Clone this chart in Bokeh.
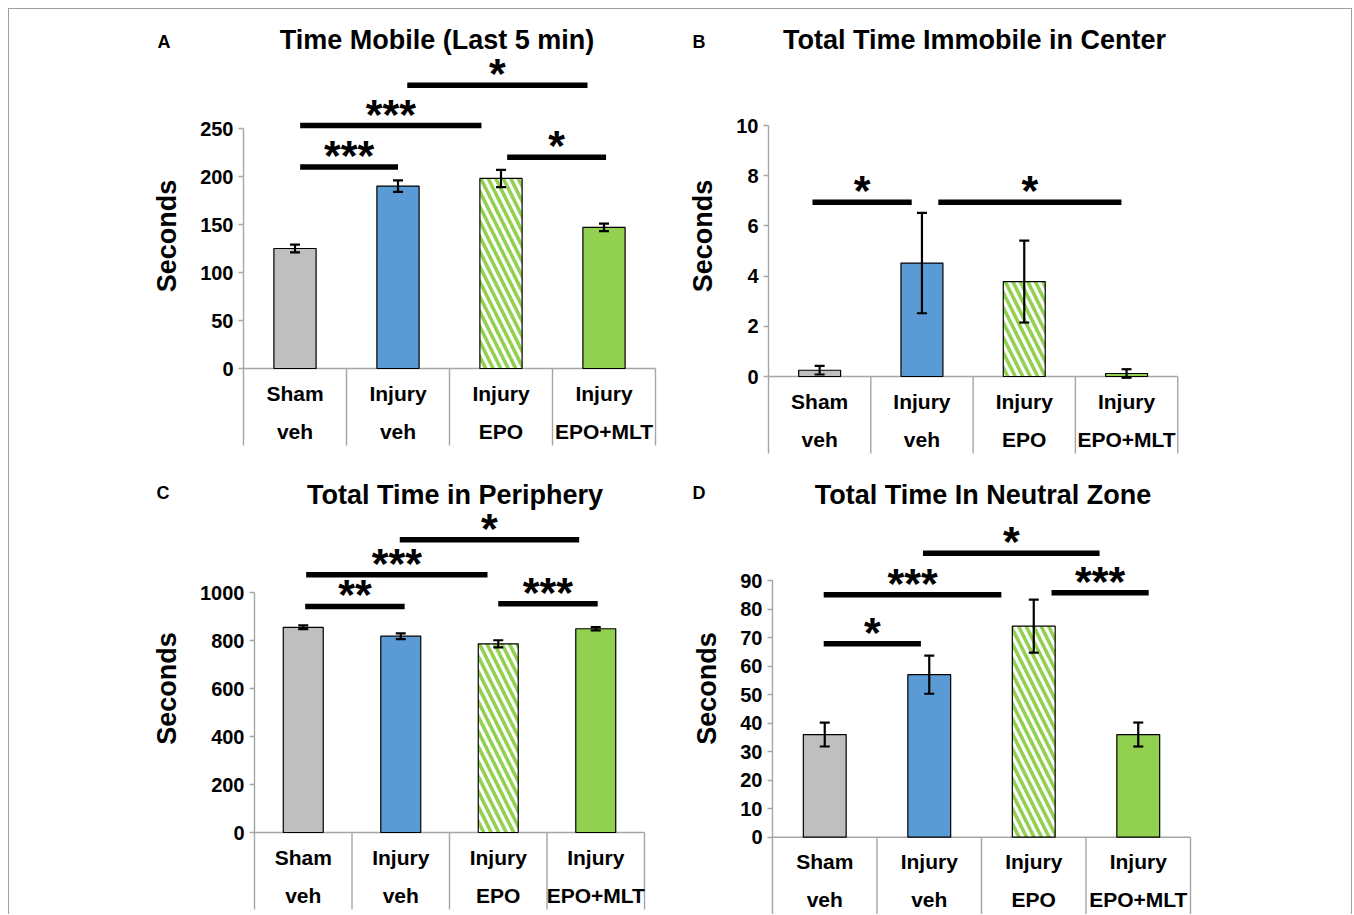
from bokeh.plotting import figure
from bokeh.models import Range1d, FixedTicker, Label, ColumnDataSource, Whisker, TeeHead
from bokeh.layouts import row, column
from bokeh.embed import file_html
from bokeh.resources import INLINE
from bokeh.core.properties import value

# ---------------- data ----------------
group_top = ["Sham", "Injury", "Injury", "Injury"]
group_bottom = ["veh", "veh", "EPO", "EPO+MLT"]

mobile_mean = [125, 190, 198, 147]
mobile_err = [4, 6, 9, 4]
mobile_ticks = [0, 50, 100, 150, 200, 250]
# comparisons: start group, end group, bar height (seconds), significance
mobile_sig_from = [0.05, 0.05, 1.09, 2.06]
mobile_sig_to = [1.00, 1.81, 2.84, 3.02]
mobile_sig_level = [210, 253, 295, 220]
mobile_sig_text = ["***", "***", "*", "*"]

center_mean = [0.25, 4.52, 3.78, 0.12]
center_err = [0.17, 2.0, 1.63, 0.17]
center_ticks = [0, 2, 4, 6, 8, 10]
center_sig_from = [-0.07, 1.16]
center_sig_to = [0.90, 2.95]
center_sig_level = [6.94, 6.94]
center_sig_text = ["*", "*"]

periph_mean = [855, 818, 786, 849]
periph_err = [8, 12, 15, 7]
periph_ticks = [0, 200, 400, 600, 800, 1000]
periph_sig_from = [0.02, 0.03, 0.99, 2.00]
periph_sig_to = [1.04, 1.89, 2.83, 3.02]
periph_sig_level = [942, 1074, 1220, 953]
periph_sig_text = ["**", "***", "*", "***"]

neutral_mean = [36, 57, 74, 36]
neutral_err = [4.2, 6.7, 9.3, 4.2]
neutral_ticks = [0, 10, 20, 30, 40, 50, 60, 70, 80, 90]
neutral_sig_from = [-0.01, -0.01, 0.94, 2.17]
neutral_sig_to = [0.92, 1.69, 2.63, 3.10]
neutral_sig_level = [67.8, 85, 99.6, 85.7]
neutral_sig_text = ["*", "***", "*", "***"]

# ---------------- style ----------------
GRAY_BAR = "#BFBFBF"
BLUE = "#5B9BD5"
GREEN = "#92D050"
AXIS_GRAY = "#A6A6A6"
FONT = "Liberation Sans"
bar_fill = [GRAY_BAR, BLUE, "#FFFFFF", GREEN]
bar_hatch = [" ", " ", "\\", " "]
BASE_FIX = 0.44   # em shift so that text baselines land where wanted


def panel(letter, title, ticks, means, errs, s_from, s_to, s_level, s_text,
          fig_x, fig_y, fig_w, fig_h, axis_px, slot_px, zero_px, ppu,
          title_cx, title_base, letter_x, letter_base):
    n = len(means)
    xs = list(range(n))
    x_start = -0.5
    x_end = -0.5 + (fig_x + fig_w - axis_px) / slot_px
    y_start = -(fig_y + fig_h - zero_px) / ppu
    y_end = (zero_px - fig_y) / ppu
    table_depth = 77 / ppu

    def yv(px):
        return (zero_px - px) / ppu

    def xv(px):
        return (px - axis_px) / slot_px - 0.5

    p = figure(width=fig_w, height=fig_h,
               x_range=Range1d(x_start, x_end), y_range=Range1d(y_start, y_end),
               output_backend="svg", toolbar_location=None, x_axis_location=None,
               title=None,
               min_border_left=axis_px - fig_x, min_border_right=0,
               min_border_top=0, min_border_bottom=0)
    p.outline_line_color = None
    p.grid.visible = False
    p.background_fill_color = "white"
    p.border_fill_color = "white"

    # category table lines
    p.segment(x0=[-0.5], y0=[0], x1=[n - 0.5], y1=[0], line_color=AXIS_GRAY, line_width=1.4)
    seps = [i + 0.5 for i in xs]
    p.segment(x0=seps, y0=[0] * n, x1=seps, y1=[-table_depth] * n,
              line_color=AXIS_GRAY, line_width=1.4)

    src = ColumnDataSource(dict(
        x=xs, top=means,
        upper=[m + e for m, e in zip(means, errs)],
        lower=[m - e for m, e in zip(means, errs)],
        fill=bar_fill, hatch=bar_hatch))
    p.vbar(x="x", top="top", bottom=0, width=0.41, source=src,
           fill_color="fill", line_color="black", line_width=1.2,
           hatch_pattern="hatch", hatch_color=GREEN, hatch_weight=3.6, hatch_scale=15)

    wh = Whisker(base="x", upper="upper", lower="lower", source=src,
                 line_color="black", line_width=2.2, level="annotation",
                 upper_head=TeeHead(size=10, line_width=2.2, line_color="black"),
                 lower_head=TeeHead(size=10, line_width=2.2, line_color="black"))
    p.add_layout(wh)

    # significance bars
    sig = ColumnDataSource(dict(
        x0=s_from, x1=s_to, y=s_level,
        xm=[(a + b) / 2 for a, b in zip(s_from, s_to)], label=s_text))
    p.segment(x0="x0", y0="y", x1="x1", y1="y", source=sig,
              line_color="black", line_width=5.5, line_cap="butt")
    p.text(x="xm", y="y", text="label", source=sig, y_offset=-12,
           text_align="center", text_baseline="alphabetic",
           text_font=value(FONT), text_font_size="43px", text_font_style="bold",
           text_color="black")

    # category labels
    cat_size = 21
    p.text(x=xs, y=[yv(zero_px + 34 - BASE_FIX * cat_size)] * n, text=group_top,
           text_align="center", text_baseline="alphabetic",
           text_font=value(FONT), text_font_size=f"{cat_size}px", text_font_style="bold",
           text_color="black")
    p.text(x=xs, y=[yv(zero_px + 72 - BASE_FIX * cat_size)] * n, text=group_bottom,
           text_align="center", text_baseline="alphabetic",
           text_font=value(FONT), text_font_size=f"{cat_size}px", text_font_style="bold",
           text_color="black")

    # y axis
    ax = p.yaxis[0]
    ax.ticker = FixedTicker(ticks=ticks)
    ax.bounds = (-table_depth, ticks[-1])
    ax.axis_line_color = AXIS_GRAY
    ax.axis_line_width = 1.4
    ax.major_tick_line_color = AXIS_GRAY
    ax.major_tick_line_width = 1.4
    ax.major_tick_out = 5
    ax.major_tick_in = 0
    ax.minor_tick_line_color = None
    ax.major_label_standoff = 5
    ax.major_label_text_font = FONT
    ax.major_label_text_font_size = "20px"
    ax.major_label_text_font_style = "bold"
    ax.major_label_text_color = "black"
    ax.axis_label = "Seconds"
    ax.axis_label_standoff = 15
    ax.axis_label_text_font = FONT
    ax.axis_label_text_font_size = "27px"
    ax.axis_label_text_font_style = "bold"
    ax.axis_label_text_color = "black"

    # title and panel letter
    p.add_layout(Label(x=xv(title_cx), y=yv(title_base - BASE_FIX * 27),
                       text=title, text_align="center", text_baseline="alphabetic",
                       text_font=FONT, text_font_size="27px", text_font_style="bold",
                       text_color="black"))
    p.text(x=[xv(letter_x)], y=[yv(letter_base - BASE_FIX * 18)], text=[letter],
           level="overlay", text_align="left", text_baseline="alphabetic",
           text_font=value(FONT), text_font_size="18px", text_font_style="bold",
           text_color="black")
    return p


pA = panel("A", "Time Mobile (Last 5 min)", mobile_ticks, mobile_mean, mobile_err,
           mobile_sig_from, mobile_sig_to, mobile_sig_level, mobile_sig_text,
           9, 9, 668, 453, 243, 103, 368, 0.96, 436.5, 51, 157, 49)
pB = panel("B", "Total Time Immobile in Center", center_ticks, center_mean, center_err,
           center_sig_from, center_sig_to, center_sig_level, center_sig_text,
           677, 9, 674, 453, 768, 102.3, 376, 25.1, 974, 51, 692, 49)
pC = panel("C", "Total Time in Periphery", periph_ticks, periph_mean, periph_err,
           periph_sig_from, periph_sig_to, periph_sig_level, periph_sig_text,
           9, 462, 668, 452, 254, 97.5, 832, 0.24, 454.5, 506, 156, 500)
pD = panel("D", "Total Time In Neutral Zone", neutral_ticks, neutral_mean, neutral_err,
           neutral_sig_from, neutral_sig_to, neutral_sig_level, neutral_sig_text,
           677, 462, 674, 452, 772, 104.5, 836.7, 2.852, 982.5, 506, 692, 500)

layout = column(row(pA, pB), row(pC, pD),
                styles={"margin-left": "8px", "margin-top": "8px",
                        "border-top": "1px solid #A0A0A0",
                        "border-left": "1px solid #A0A0A0",
                        "border-right": "1px solid #A0A0A0"})

open("out.html", "w").write(file_html(layout, INLINE))
